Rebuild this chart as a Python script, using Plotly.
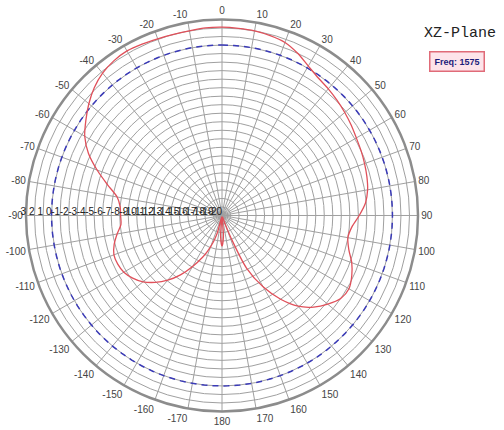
import plotly.graph_objects as go

# Angle (degrees, clockwise from top) and gain (dB)
angles = [0, 5, 10, 15, 20, 25, 30, 35, 40, 45, 50, 55, 60, 65, 70, 75, 80, 85, 90,
          95, 100, 105, 110, 115, 120, 125, 130, 135, 140, 145, 150, 155, 158, 160, 163,
          168, 172, 176, 180, 184, 188, 192, 195, 198, 202, 205, 210, 215, 220, 225,
          230, 235, 240, 245, 250, 255, 260, 265, 270, 275, 280, 285, 290, 295, 300,
          305, 310, 315, 320, 325, 330, 335, 340, 345, 350, 355, 360]
gain_db = [2.1, 2.05, 2.0, 1.85, 1.6, 1.0, 0.25, -0.3, -0.6, -0.9, -1.2, -1.5, -1.8, -2.0, -2.2, -2.4, -2.65, -3.1, -3.9,
           -4.7, -5.0, -4.6, -3.8, -3.2, -2.8, -3.0, -3.8, -4.8, -6.1, -8.0, -10.3, -13.2, -17.0, -19.0, -19.8,
           -19.8, -19.8, -17.6, -16.4, -17.6, -19.8, -19.8, -17.9, -16.8, -15.5, -14.6, -13.1, -11.5, -10.1, -8.9,
           -7.9, -7.2, -6.7, -6.5, -6.5, -6.9, -7.5, -8.1, -8.1, -8.0, -7.5, -6.1, -4.4, -2.7, -1.4,
           -0.5, 0.4, 1.2, 1.8, 2.15, 2.3, 2.2, 2.07, 2.0, 2.0, 2.1, 2.1]

ref_angles = list(range(0, 361, 2))
ref_db = [0] * len(ref_angles)

angle_ticks = list(range(0, 360, 10))
angle_labels = [str(a) if a <= 180 else str(a - 360) for a in angle_ticks]
radial_ticks = list(range(3, -21, -1))
radial_labels = [str(v) for v in radial_ticks]

fig = go.Figure()
fig.add_trace(go.Scatterpolar(
    r=ref_db, theta=ref_angles, mode="lines",
    line=dict(color="#3a3ab8", width=1.5, dash="6px,5px"),
    hoverinfo="skip", showlegend=False))
fig.add_trace(go.Scatterpolar(
    r=gain_db, theta=angles, mode="lines",
    line=dict(color="#e0505a", width=1.3, shape="spline", smoothing=0.8),
    showlegend=False))

fig.update_layout(
    width=504, height=430,
    margin=dict(l=0, r=0, t=0, b=0),
    paper_bgcolor="white",
    polar=dict(
        domain=dict(x=[0.0516, 0.8294], y=[0.043, 0.9547]),
        bgcolor="white",
        angularaxis=dict(
            rotation=90, direction="clockwise",
            tickmode="array", tickvals=angle_ticks, ticktext=angle_labels,
            showgrid=True, gridcolor="#a0a0a0", gridwidth=1,
            showline=True, linecolor="#8c8c8c", linewidth=2.5,
            ticks="", tickfont=dict(family="Liberation Sans", size=10, color="#444"),
        ),
        radialaxis=dict(
            range=[-20, 3], angle=180, tickangle=180,
            tickmode="array", tickvals=radial_ticks, ticktext=radial_labels,
            showgrid=True, gridcolor="#a0a0a0", gridwidth=1,
            showline=False, ticks="",
            tickfont=dict(family="Liberation Sans Narrow, Liberation Sans", size=10, color="#222"),
        ),
    ),
    annotations=[
        dict(text="XZ-Plane", x=0.913, y=0.923, xref="paper", yref="paper",
             xanchor="center", yanchor="middle",
             showarrow=False, font=dict(family="Liberation Mono", size=15, color="#222")),
        dict(text="<b>Freq: 1575</b>", x=0.907, y=0.856, xref="paper", yref="paper",
             xanchor="center", yanchor="middle",
             showarrow=False, bgcolor="#fde4ea", bordercolor="#e06b78", borderwidth=1.5,
             borderpad=4,
             font=dict(family="Liberation Sans Narrow, Liberation Sans", size=9, color="#1c1c7a")),
    ],
)

fig.write_html("out.html", config={"displayModeBar": False},
               post_script="document.body.style.margin='0';")
